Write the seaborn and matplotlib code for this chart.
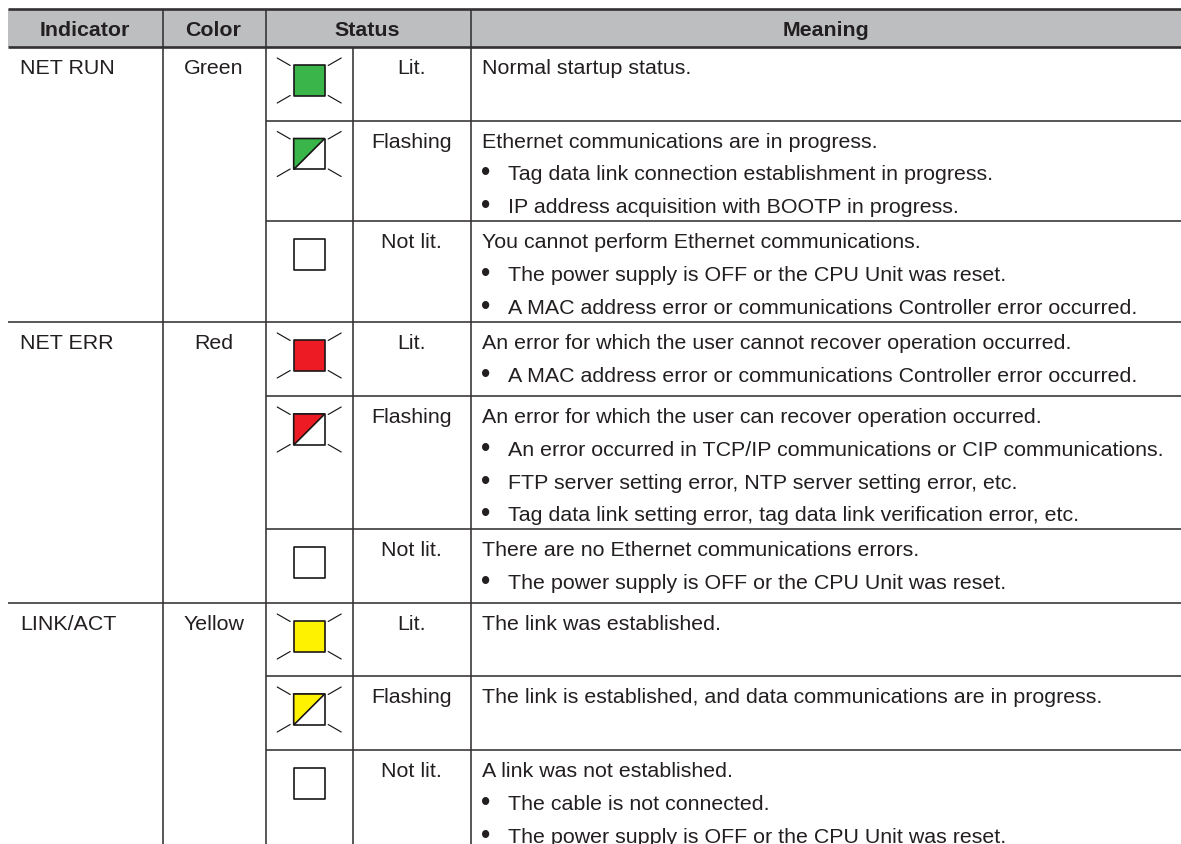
import matplotlib
matplotlib.use("Agg")
import matplotlib.pyplot as plt
import pandas as pd
import seaborn as sns

# table content
headers = ["Indicator", "Color", "Status", "Meaning"]
indicators = ["NET RUN", "NET ERR", "LINK/ACT"]
color_names = ["Green", "Red", "Yellow"]
status_names = ["Lit.", "Flashing", "Not lit."]
lamp_colors = ["#39b54a", "#ed1c24", "#fff200"]

meanings = [
    ["Normal startup status."],
    ["Ethernet communications are in progress.",
     "Tag data link connection establishment in progress.",
     "IP address acquisition with BOOTP in progress."],
    ["You cannot perform Ethernet communications.",
     "The power supply is OFF or the CPU Unit was reset.",
     "A MAC address error or communications Controller error occurred."],
    ["An error for which the user cannot recover operation occurred.",
     "A MAC address error or communications Controller error occurred."],
    ["An error for which the user can recover operation occurred.",
     "An error occurred in TCP/IP communications or CIP communications.",
     "FTP server setting error, NTP server setting error, etc.",
     "Tag data link setting error, tag data link verification error, etc."],
    ["There are no Ethernet communications errors.",
     "The power supply is OFF or the CPU Unit was reset."],
    ["The link was established."],
    ["The link is established, and data communications are in progress."],
    ["A link was not established.",
     "The cable is not connected.",
     "The power supply is OFF or the CPU Unit was reset."],
]

# layout in pixels
row_tops = [48, 121.5, 222, 323, 397, 530, 604, 677, 751]
col_x = [162.5, 265.5, 353, 470.5]
left, right, bottom = 8, 1181, 845
line_col = "#333132"
text_col = "#231f20"
fs = 15.42

sns.set_theme(style="white")
plt.rcParams["font.family"] = ["Liberation Sans", "DejaVu Sans"]

fig = plt.figure(figsize=(11.81, 8.45), dpi=100, facecolor="white")
ax = fig.add_axes([0, 0, 1, 1])
ax.set_xlim(0, 1181)
ax.set_ylim(845, 0)
ax.axis("off")

# header band
ax.fill_between([left, right], 10, 47.5, color="#bcbec0", lw=0, zorder=0)
ax.hlines(10, left, right, color=line_col, lw=1.9)
ax.hlines(47.5, left, right, color=line_col, lw=1.9)
head_x = [85, 213.5, 367.5, 825.5]
for x, h in zip(head_x, headers):
    ax.text(x, 36.5, h, ha="center", va="baseline", fontsize=fs, fontweight="bold", color=text_col)

# grid
ax.vlines([col_x[0], col_x[1], col_x[3]], 10, bottom, color=line_col, lw=1.15)
ax.vlines(col_x[2], 48, bottom, color=line_col, lw=1.15)
for i, y in enumerate(row_tops[1:], start=1):
    x0 = left if i % 3 == 0 else col_x[1]
    ax.hlines(y, x0, right, color=line_col, lw=1.15)

# text in the cells
for i, y in enumerate(row_tops):
    if i % 3 == 0:
        ax.text(20, y + 26, indicators[i // 3], va="baseline", fontsize=fs, color=text_col)
        ax.text(213.5, y + 26, color_names[i // 3], ha="center", va="baseline", fontsize=fs, color=text_col)
    ax.text(411.7, y + 26, status_names[i % 3], ha="center", va="baseline", fontsize=fs, color=text_col)
    for j, line in enumerate(meanings[i]):
        base = y + 26 + j * 32.8
        if j == 0:
            ax.text(482, base, line, va="baseline", fontsize=fs, color=text_col)
        else:
            ax.text(486, base, "\u2022", ha="center", va="baseline", fontsize=fs * 1.25, color=text_col)
            ax.text(508.5, base, line, va="baseline", fontsize=fs, color=text_col)

# lamps
lamps = pd.DataFrame({
    "x": [309.2] * len(row_tops),
    "y": [y + 33.5 for y in row_tops],
    "state": [status_names[i % 3] for i in range(len(row_tops))],
    "fill": [lamp_colors[i // 3] if i % 3 == 0 else "white" for i in range(len(row_tops))],
})
sns.scatterplot(data=lamps, x="x", y="y", marker="s", s=490, c=lamps["fill"],
                edgecolor="#1a1718", linewidth=1.2, ax=ax, legend=False, zorder=3, clip_on=False)
half = 15.5
for i, row in lamps.iterrows():
    if row["state"] == status_names[1]:
        ax.fill([row.x - half, row.x + half, row.x - half],
                [row.y - half, row.y - half, row.y + half],
                facecolor=lamp_colors[i // 3], edgecolor="#1a1718", lw=1.2, zorder=4)
    if row["state"] != status_names[2]:
        for sx in (-1, 1):
            for sy in (-1, 1):
                ax.plot([row.x + sx * 32, row.x + sx * 19], [row.y + sy * 22.5, row.y + sy * 15],
                        color="#1a1718", lw=0.85, zorder=3)

ax.set_xlim(0, 1181)
ax.set_ylim(845, 0)
ax.axis("off")
fig.savefig("out.png", dpi=100, facecolor="white")
